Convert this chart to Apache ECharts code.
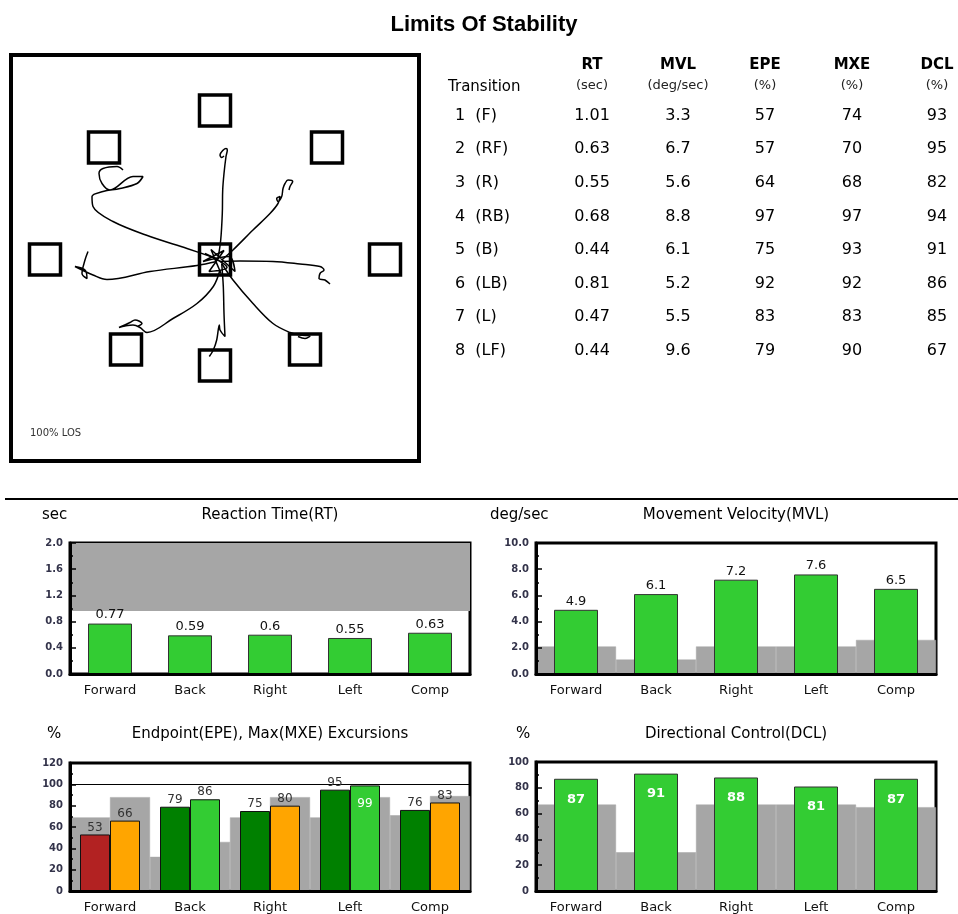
<!DOCTYPE html>
<html>
<head>
<meta charset="utf-8">
<title>Limits Of Stability</title>
<script src="https://cdn.jsdelivr.net/npm/echarts@6/dist/echarts.min.js"></script>
<style>
  html, body { margin: 0; padding: 0; background: #fff; }
  #main { width: 958px; height: 914px; }
</style>
</head>
<body>
<div id="main"></div>
<script>
// ---- table data ----
var transitions = ['1  (F)', '2  (RF)', '3  (R)', '4  (RB)', '5  (B)', '6  (LB)', '7  (L)', '8  (LF)'];
var tableRT  = [1.01, 0.63, 0.55, 0.68, 0.44, 0.81, 0.47, 0.44];
var tableMVL = [3.3, 6.7, 5.6, 8.8, 6.1, 5.2, 5.5, 9.6];
var tableEPE = [57, 57, 64, 97, 75, 92, 83, 79];
var tableMXE = [74, 70, 68, 97, 93, 92, 83, 90];
var tableDCL = [93, 95, 82, 94, 91, 86, 85, 67];

// ---- LOS plot: targets and traces (x right, y up) ----
var targets = [[0, 0], [0, 149], [112, 112], [170, 0], [90, -90], [0, -106], [-89, -90], [-170, 0], [-111, 112]];
var traceF  = [[3,1],[5.7,19.5],[7.3,46],[7.7,69.5],[9,86],[11,103],[12.3,109.5],[11,111],[8.3,109.5],[5,104.5],[6.7,102],[9,103.5]];
var traceRF = [[6.7,-0.5],[18,9.5],[38,29.5],[55,46],[63,56],[65,63],[61.7,61],[63,58],[66.7,63],[68,71],[70,76],[73,79.5],[77.7,78],[75,73],[74,69.5]];
var traceR  = [[5,-2],[25,-1.5],[58,-2],[85,-4.5],[105,-7],[109,-10.5],[105,-14],[104,-19],[110,-20.5],[115,-24.5]];
var traceRB = [[6.7,-4],[18,-20.5],[38,-44],[58,-64],[75,-73],[85,-75.5],[95,-76.5],[90,-79],[83,-77]];
var traceB  = [[6.7,-4],[8.3,-27],[9,-54],[10,-77],[5,-70.5],[4.3,-65.5],[1.7,-80.5],[-1.7,-90.5],[-5.7,-97]];
var traceLB = [[5,-10.5],[-1.7,-27],[-18,-44],[-42,-59],[-68,-73],[-75,-68],[-82,-65.5],[-90,-66.5],[-96,-68],[-85,-63],[-80,-60.5],[-73,-64],[-78,-67]];
var traceL  = [[1.7,-2],[-18,-6],[-65,-12],[-108,-20],[-122,-15.5],[-140,-7],[-130,-10.5],[-128,-19],[-133,-14],[-130,-0.5],[-127,8]];
var traceLF = [[1.7,1],[-28,11],[-65,23],[-102,38],[-122,53],[-123,63],[-112,68],[-95,71],[-78,76],[-72,83],[-82,83],[-105,69.5],[-113,76],[-116,86],[-112,91],[-98,93],[-92,89.5]];
var traceC  = [[-10,6],[12,-8],[-6,-12],[9,9],[-12,-2],[14,3],[20,-12],[-4,10],[6,-14],[0,0]];

// ---- bar charts ----
var dirs = ['Forward', 'Back', 'Right', 'Left', 'Comp'];
var rtValues = [0.77, 0.59, 0.6, 0.55, 0.63];
var rtLimit = 0.96;
var mvlValues = [4.9, 6.1, 7.2, 7.6, 6.5];
var mvlNormal = [2.1, 1.1, 2.1, 2.1, 2.6];
var epeValues = [53, 79, 75, 95, 76];
var mxeValues = [66, 86, 80, 99, 83];
var epeNormal = [69, 32, 69, 69, 71];
var mxeNormal = [88, 46, 88, 88, 89];
var dclValues = [87, 91, 88, 81, 87];
var dclNormal = [67, 30, 67, 67, 65];

var chart = echarts.init(document.getElementById('main'));

var GRAY = '#a6a6a6';
var GREEN = '#33cc33';
var DARKGREEN = '#008000';
var RED = '#b22222';
var ORANGE = '#ffa500';
var FONT = 'DejaVu Sans';

// text pieces drawn with graphic
var texts = [];
function txt(s, x, y, size, align, weight, color) {
    texts.push({
        type: 'text', silent: true,
        style: {
            text: s, x: x, y: y, fill: color || '#111',
            font: (weight || 'normal') + ' ' + size + 'px "' + FONT + '"',
            align: align || 'left', verticalAlign: 'middle'
        }
    });
}
texts.push({
    type: 'text', silent: true,
    style: { text: 'Limits Of Stability', x: 484, y: 25, fill: '#000',
        font: 'bold 22px "Liberation Sans"', align: 'center', verticalAlign: 'middle' }
});
txt('100% LOS', 30, 433, 10, 'left', 'normal', '#333');

// table
var cols = [
    { name: 'RT', unit: '(sec)', vals: tableRT, dec: 2, x: 592 },
    { name: 'MVL', unit: '(deg/sec)', vals: tableMVL, dec: 1, x: 678 },
    { name: 'EPE', unit: '(%)', vals: tableEPE, dec: 0, x: 765 },
    { name: 'MXE', unit: '(%)', vals: tableMXE, dec: 0, x: 852 },
    { name: 'DCL', unit: '(%)', vals: tableDCL, dec: 0, x: 937 }
];
txt('Transition', 448, 87, 15, 'left', 'normal', '#000');
cols.forEach(function (c) {
    txt(c.name, c.x, 65, 15, 'center', 'bold', '#000');
    txt(c.unit, c.x, 86, 13, 'center', 'normal', '#222');
});
for (var i = 0; i < transitions.length; i++) {
    var ry = 115.7 + i * 33.6;
    txt(transitions[i], 455, ry, 16, 'left', 'normal', '#000');
    cols.forEach(function (c) {
        txt(c.vals[i].toFixed(c.dec), c.x, ry, 16, 'center', 'normal', '#000');
    });
}

// chart headings
txt('sec', 42, 515, 15, 'left', 'normal', '#000');
txt('Reaction Time(RT)', 270, 515, 15, 'center', 'normal', '#000');
txt('deg/sec', 490, 515, 15, 'left', 'normal', '#000');
txt('Movement Velocity(MVL)', 736, 515, 15, 'center', 'normal', '#000');
txt('%', 47, 734, 15, 'left', 'normal', '#000');
txt('Endpoint(EPE), Max(MXE) Excursions', 270, 734, 15, 'center', 'normal', '#000');
txt('%', 516, 734, 15, 'left', 'normal', '#000');
txt('Directional Control(DCL)', 736, 734, 15, 'center', 'normal', '#000');

texts.push({
    type: 'line', silent: true,
    shape: { x1: 5, y1: 499, x2: 958, y2: 499 },
    style: { stroke: '#000', lineWidth: 2 }
});

// axis helpers
function catAxis(grid, data) {
    return {
        type: 'category', gridIndex: grid, data: data, z: 5,
        axisLine: { lineStyle: { color: '#000', width: 3 } },
        axisTick: { alignWithLabel: true, length: 5, lineStyle: { color: '#000', width: 1.5 } },
        axisLabel: { fontFamily: FONT, fontSize: 13, color: '#111', margin: 10 }
    };
}
function bgAxis(grid, data) {
    return { type: 'category', gridIndex: grid, data: data, show: false };
}
function valAxis(grid, max, interval, dec) {
    return {
        type: 'value', gridIndex: grid, min: 0, max: max, interval: interval, z: 5,
        axisLine: { show: true, lineStyle: { color: '#000', width: 3 } },
        axisTick: { show: true, inside: true, length: 6, lineStyle: { color: '#000', width: 1.5 } },
        minorTick: { show: true, splitNumber: 2, length: 3, lineStyle: { color: '#000', width: 1.5 } },
        splitLine: { show: false },
        axisLabel: {
            fontFamily: FONT, fontSize: 10, fontWeight: 'bold', color: '#33334a', margin: 7,
            formatter: function (v) { return v.toFixed(dec); }
        }
    };
}
var gridBox = { show: true, borderColor: '#000', borderWidth: 3, backgroundColor: '#fff' };

function lineTrace(pts) {
    return {
        type: 'line', xAxisIndex: 0, yAxisIndex: 0, data: pts, smooth: 0.35,
        symbol: 'none', silent: true, z: 4,
        lineStyle: { color: '#000', width: 1.5 }
    };
}

var bgCats = [];
dirs.forEach(function (d) { bgCats.push(d + ' EPE', d + ' MXE'); });
var epeBg = [];
for (var k = 0; k < dirs.length; k++) { epeBg.push(epeNormal[k], mxeNormal[k]); }

var barBorder = { borderColor: '#333', borderWidth: 1 };
var topLabel = { show: true, position: 'top', distance: 2, fontFamily: FONT, fontSize: 13, color: '#111' };

var option = {
    animation: false,
    backgroundColor: '#fff',
    graphic: texts,
    grid: [
        Object.assign({ left: 11, top: 55, width: 408, height: 406 }, gridBox, { borderWidth: 4 }),
        Object.assign({ left: 70, top: 543, width: 400, height: 131 }, gridBox),
        Object.assign({ left: 536, top: 543, width: 400, height: 131 }, gridBox),
        Object.assign({ left: 70, top: 763, width: 400, height: 129 }, gridBox),
        Object.assign({ left: 536, top: 762, width: 400, height: 130 }, gridBox)
    ],
    xAxis: [
        { type: 'value', gridIndex: 0, min: -204, max: 204, show: false },
        catAxis(1, dirs),
        catAxis(2, dirs),
        bgAxis(2, dirs),
        catAxis(3, dirs),
        bgAxis(3, bgCats),
        catAxis(4, dirs),
        bgAxis(4, dirs)
    ],
    yAxis: [
        { type: 'value', gridIndex: 0, min: -201.5, max: 204.5, show: false },
        valAxis(1, 2.0, 0.4, 1),
        valAxis(2, 10, 2, 1),
        valAxis(3, 120, 20, 0),
        valAxis(4, 100, 20, 0),
        // only used for the 100% reference line
        {
            type: 'value', gridIndex: 3, min: 0, max: 120, interval: 100, position: 'right',
            axisLine: { show: false }, axisTick: { show: false }, axisLabel: { show: false },
            splitLine: { show: true, lineStyle: { color: '#000', width: 1.2 } }
        }
    ],
    series: [
        // LOS targets
        {
            type: 'scatter', xAxisIndex: 0, yAxisIndex: 0, data: targets, silent: true,
            symbol: 'rect', symbolSize: 31, z: 3,
            itemStyle: { color: 'rgba(255,255,255,0)', borderColor: '#000', borderWidth: 3.5, opacity: 1 }
        },
        lineTrace(traceF), lineTrace(traceRF), lineTrace(traceR), lineTrace(traceRB),
        lineTrace(traceB), lineTrace(traceLB), lineTrace(traceL), lineTrace(traceLF),
        lineTrace(traceC),

        // Reaction time
        {
            type: 'bar', xAxisIndex: 1, yAxisIndex: 1, data: rtValues, barWidth: 44,
            itemStyle: Object.assign({ color: GREEN }, barBorder),
            label: topLabel,
            markArea: {
                silent: true, itemStyle: { color: GRAY },
                data: [[{ yAxis: rtLimit }, { yAxis: 2.0 }]]
            }
        },

        // Movement velocity
        {
            type: 'bar', xAxisIndex: 3, yAxisIndex: 2, data: mvlNormal, barWidth: '100%', z: 1,
            silent: true, itemStyle: { color: GRAY, borderColor: GRAY, borderWidth: 0.5 }
        },
        {
            type: 'bar', xAxisIndex: 2, yAxisIndex: 2, data: mvlValues, barWidth: 44,
            itemStyle: Object.assign({ color: GREEN }, barBorder),
            label: topLabel
        },

        // Endpoint / max excursions
        {
            type: 'bar', xAxisIndex: 5, yAxisIndex: 3, data: epeBg, barWidth: '100%', z: 1,
            silent: true, itemStyle: { color: GRAY, borderColor: GRAY, borderWidth: 0.5 }
        },
        {
            type: 'bar', xAxisIndex: 4, yAxisIndex: 3, barWidth: 30, barGap: '0%',
            data: epeValues.map(function (v, j) {
                return { value: v, itemStyle: { color: v < epeNormal[j] ? RED : DARKGREEN } };
            }),
            itemStyle: { borderColor: '#111', borderWidth: 1 },
            label: { show: true, position: 'top', distance: 1, fontFamily: FONT, fontSize: 12, color: '#333' }
        },
        {
            type: 'bar', xAxisIndex: 4, yAxisIndex: 3, barWidth: 30, barGap: '0%',
            data: mxeValues.map(function (v, j) {
                var item = { value: v, itemStyle: { color: v < mxeNormal[j] ? ORANGE : GREEN } };
                if (v > 97) item.label = { position: 'insideTop', distance: 12, color: '#fff' };
                return item;
            }),
            itemStyle: { borderColor: '#111', borderWidth: 1 },
            label: { show: true, position: 'top', distance: 1, fontFamily: FONT, fontSize: 12, color: '#333' }
        },

        // Directional control
        {
            type: 'bar', xAxisIndex: 7, yAxisIndex: 4, data: dclNormal, barWidth: '100%', z: 1,
            silent: true, itemStyle: { color: GRAY, borderColor: GRAY, borderWidth: 0.5 }
        },
        {
            type: 'bar', xAxisIndex: 6, yAxisIndex: 4, data: dclValues, barWidth: 44,
            itemStyle: Object.assign({ color: GREEN }, barBorder),
            label: { show: true, position: 'insideTop', distance: 14, fontFamily: FONT,
                fontSize: 13, fontWeight: 'bold', color: '#fff' }
        }
    ]
};

chart.setOption(option);
</script>
</body>
</html>
